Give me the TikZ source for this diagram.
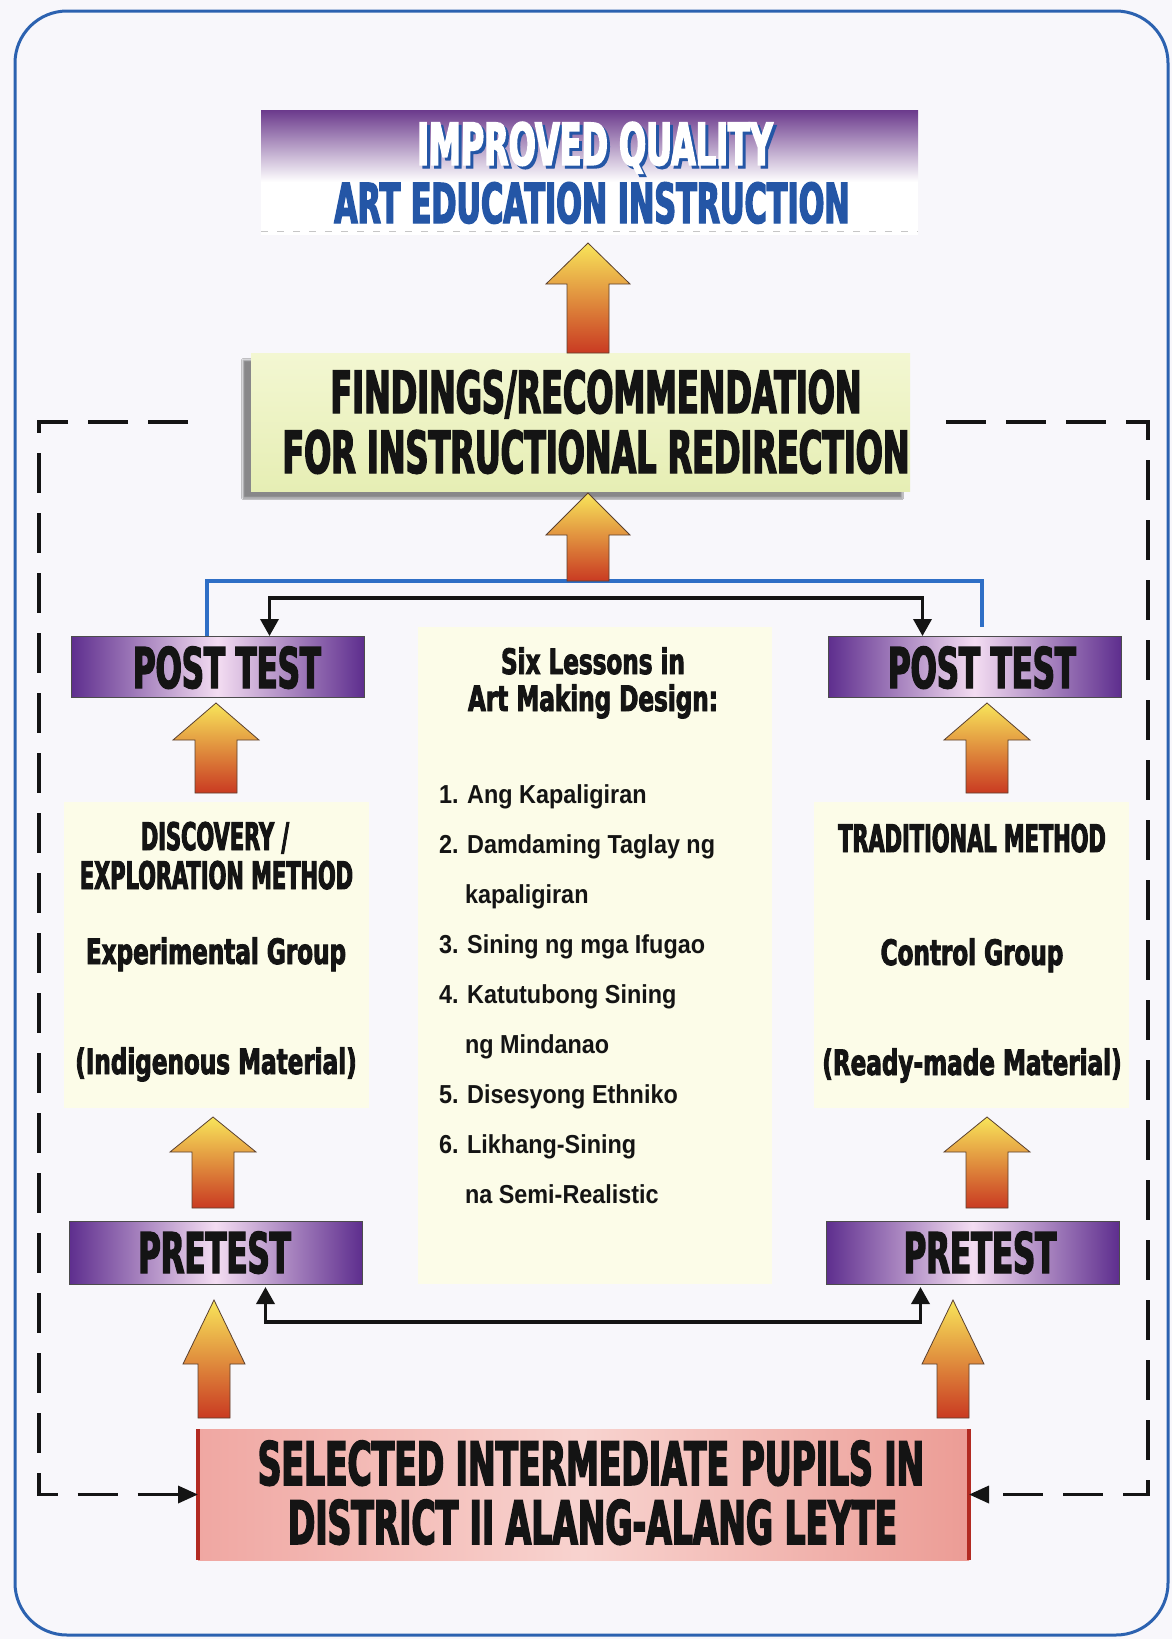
\documentclass[tikz,border=0pt]{standalone}
\usepackage{fontspec}
\usepackage{tikz}
\usetikzlibrary{
  positioning, arrows.meta, calc, shadows.blur
}
\newfontfamily\impactfont[FakeStretch=0.55, FakeBold=2.5]{DejaVu Sans}
\newfontfamily\impactwide[FakeStretch=0.66, FakeBold=2.5]{DejaVu Sans}
\newfontfamily\listfont[FakeStretch=0.9]{Liberation Sans}
\definecolor{pageBg}{HTML}{F8F7FB}
\definecolor{frameBlue}{HTML}{2C62B0}
\definecolor{bandPurple}{HTML}{6B3A8C}
\definecolor{bandPink}{HTML}{E6BDE6}
\definecolor{titleBlue}{HTML}{2456A6}
\definecolor{findTop}{HTML}{F3F7D2}
\definecolor{findBottom}{HTML}{E6EEB4}
\definecolor{testPurple}{HTML}{5E2E8E}
\definecolor{testLight}{HTML}{F4DDF2}
\definecolor{creamBox}{HTML}{FCFCE8}
\definecolor{baseLeft}{HTML}{F0A7A2}
\definecolor{baseMid}{HTML}{F8D3CF}
\definecolor{baseRight}{HTML}{EC9C95}
\definecolor{baseEdge}{HTML}{B22A22}
\definecolor{arrowTop}{HTML}{F8E55A}
\definecolor{arrowMid}{HTML}{EFA243}
\definecolor{arrowBottom}{HTML}{C93A22}
\definecolor{arrowEdge}{HTML}{5A4030}
\definecolor{inkBlack}{HTML}{141414}
\definecolor{feedBlue}{HTML}{2F6FC6}

% fat up arrow: x, tip y, tail y, head length, head half width, shaft half width
\newcommand{\blockarrow}[6]{%
  \shade[top color=arrowTop, middle color=arrowMid, bottom color=arrowBottom,
    draw=arrowEdge, line width=0.8pt]
    (#1,#2) -- (#1+#5,#2+#4) -- (#1+#6,#2+#4) -- (#1+#6,#3) -- (#1-#6,#3)
    -- (#1-#6,#2+#4) -- (#1-#5,#2+#4) -- cycle;}

\begin{document}
\begin{tikzpicture}[
  x=1pt, y=-1pt,
  every node/.style={inner sep=0pt, outer sep=0pt},
  headband/.style={
    rectangle, minimum width=657pt, minimum height=125pt, fill=white
  },
  findbox/.style={
    rectangle, minimum width=659pt, minimum height=138pt,
    top color=findTop, bottom color=findBottom,
    blur shadow={shadow xshift=-8pt, shadow yshift=-7pt, shadow opacity=45}
  },
  testbox/.style={
    rectangle, minimum width=293pt, draw=black!70, line width=0.8pt,
    left color=testPurple, right color=testPurple, middle color=testLight
  },
  groupbox/.style={rectangle, fill=creamBox},
  basebox/.style={
    rectangle, minimum width=771pt, minimum height=131pt,
    left color=baseLeft, right color=baseRight, middle color=baseMid
  },
  heavy/.style={
    font=\impactfont\bfseries\fontsize{#1}{#1}\selectfont,
    text=inkBlack, anchor=base
  },
  mixed/.style={
    font=\impactwide\bfseries\fontsize{#1}{#1}\selectfont,
    text=inkBlack, anchor=base
  },
  lesson/.style={
    font=\listfont\bfseries\fontsize{26}{30}\selectfont,
    text=inkBlack, anchor=base west
  },
  joinline/.style={
    draw=inkBlack, line width=3.5pt,
    {Triangle[width=18pt,length=17pt]}-{Triangle[width=18pt,length=17pt]}
  },
  loopline/.style={
    draw=inkBlack, line width=3.5pt, dash pattern=on 40pt off 20pt,
    -{Triangle[width=17pt,length=20pt]}
  },
  feedline/.style={draw=feedBlue, line width=4pt},
]

% === PAGE AND FRAME ===
\useasboundingbox (0,0) rectangle (1172,1639);
\fill[pageBg] (0,0) rectangle (1172,1639);
\draw[frameBlue, line width=3pt, rounded corners=52pt] (15,11) rectangle (1168,1635);

% === BOXES ===
\node[headband] (improved) at (589.5,172.5) {};
\shade[top color=bandPurple, middle color=bandPink, bottom color=white]
  (improved.north west) rectangle ($(improved.north east)+(0,72)$);
\draw[gray!45, line width=1pt, dash pattern=on 7pt off 9pt]
  ([yshift=4pt]improved.south west) -- ([yshift=4pt]improved.south east);

\node[findbox] (findings) at (580.5,422) {};

\node[testbox, minimum height=61pt] (postL) at (217.5,666.5) {};
\node[testbox, minimum height=61pt] (postR) at (974.5,666.5) {};

\node[groupbox, minimum width=305pt, minimum height=306pt] (discovery) at (216.5,955) {};
\node[groupbox, minimum width=315pt, minimum height=306pt] (traditional) at (971.5,955) {};
\node[groupbox, minimum width=354pt, minimum height=657pt] (lessons) at (595,955.5) {};

\node[testbox, minimum height=63pt] (preL) at (215.5,1252.5) {};
\node[testbox, minimum height=63pt] (preR) at (972.5,1252.5) {};

\node[basebox] (selected) at (583.5,1494.5) {};
\draw[baseEdge, line width=4pt] (selected.north west) -- (selected.south west);
\draw[baseEdge, line width=4pt] (selected.north east) -- (selected.south east);

% === FEEDBACK LOOPS ===
\coordinate (fork) at (588,581);
\coordinate (topbar) at (588,598);
\coordinate (botbar) at (590,1322);
\coordinate (loopL) at (39,1470);
\coordinate (loopR) at (1148,1470);

\draw[feedline] ([xshift=-11pt]postL.north) |- (fork) -| ([xshift=7pt,yshift=9pt]postR.north);
\draw[joinline] ([xshift=52pt]postL.north) |- (topbar) -| ([xshift=-52pt]postR.north);
\draw[joinline] ([xshift=50pt,yshift=-3pt]preL.south) |- (botbar) -| ([xshift=-52pt,yshift=-3pt]preR.south);

\draw[loopline] ([xshift=-63pt]findings.west) -| (loopL) |- (selected.west);
\draw[loopline] ([xshift=36pt]findings.east) -| (loopR) |- (selected.east);

% === UP ARROWS ===
\blockarrow{588}{243}{353}{41}{42}{21}
\blockarrow{588}{493}{581}{42}{42}{21}
\blockarrow{216}{703}{793}{37}{43}{21}
\blockarrow{987}{703}{793}{37}{43}{21}
\blockarrow{213}{1117}{1208}{35}{43}{21}
\blockarrow{987}{1117}{1208}{35}{43}{21}
\blockarrow{214}{1300}{1418}{64}{31}{16}
\blockarrow{953}{1300}{1418}{64}{31}{16}

% === TEXTS ===
\node[heavy=58, text=titleBlue] (improvedshade) at (598,168) {IMPROVED QUALITY};
\node[heavy=58, text=white] (improvedtop) at (595,165) {IMPROVED QUALITY};
\node[heavy=55, text=titleBlue] (improvedsub) at (592,223) {ART EDUCATION INSTRUCTION};

\node[heavy=58] (findtop) at (596,413) {FINDINGS/RECOMMENDATION};
\node[heavy=58] (findsub) at (596,473) {FOR INSTRUCTIONAL REDIRECTION};

\node[heavy=56] (postLtext) at (227,688) {POST TEST};
\node[heavy=56] (postRtext) at (982,688) {POST TEST};

\node[heavy=38] (disctop) at (215,850) {DISCOVERY /};
\node[heavy=38] (discsub) at (216.5,889) {EXPLORATION METHOD};
\node[mixed=35] (discgroup) at (216,964) {Experimental Group};
\node[mixed=35] (discmat) at (216,1074) {(Indigenous Material)};

\node[heavy=38] (tradtop) at (972,852) {TRADITIONAL METHOD};
\node[mixed=35] (tradgroup) at (972,965) {Control Group};
\node[mixed=35] (tradmat) at (972,1075) {(Ready-made Material)};

\node[mixed=35] (lessontop) at (593,674) {Six Lessons in};
\node[mixed=35] (lessonsub) at (593,711) {Art Making Design:};
\node[lesson] (lessonA) at (439,803) {1. Ang Kapaligiran};
\node[lesson] (lessonB) at (439,853) {2. Damdaming Taglay ng};
\node[lesson] (lessonBb) at (465,903) {kapaligiran};
\node[lesson] (lessonC) at (439,953) {3. Sining ng mga Ifugao};
\node[lesson] (lessonD) at (439,1003) {4. Katutubong Sining};
\node[lesson] (lessonDb) at (465,1053) {ng Mindanao};
\node[lesson] (lessonE) at (439,1103) {5. Disesyong Ethniko};
\node[lesson] (lessonF) at (439,1153) {6. Likhang-Sining};
\node[lesson] (lessonFb) at (465,1203) {na Semi-Realistic};

\node[heavy=56] (preLtext) at (214.5,1273) {PRETEST};
\node[heavy=56] (preRtext) at (980,1273) {PRETEST};

\node[heavy=60] (seltop) at (591,1485) {SELECTED INTERMEDIATE PUPILS IN};
\node[heavy=60] (selsub) at (592.5,1544) {DISTRICT II ALANG-ALANG LEYTE};

\end{tikzpicture}
\end{document}
